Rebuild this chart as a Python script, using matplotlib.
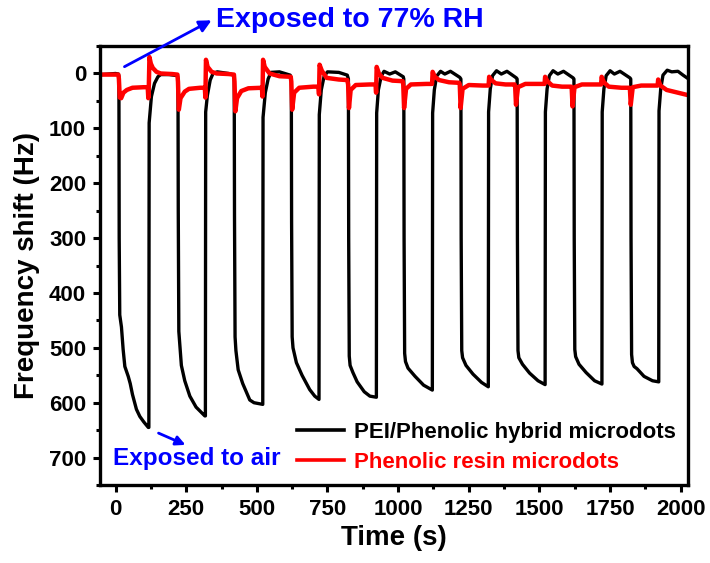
import matplotlib.pyplot as plt
from matplotlib.ticker import MultipleLocator

plt.rcParams['font.family'] = ['Liberation Sans', 'DejaVu Sans']
plt.rcParams['font.weight'] = 'bold'

# PEI/Phenolic hybrid microdots (black), one cycle per line
pei_time = [-50, 0, 10,
            12, 13, 15, 21, 27, 33, 45, 52, 60, 74, 86, 100, 116, 118, 119, 127, 138, 150, 160, 190, 219,
            221, 222, 224, 227, 233, 245, 263, 285, 316, 318, 319, 325, 335, 345, 360, 400, 418,
            420, 421, 423, 426, 434, 450, 475, 490, 510, 521, 522, 530, 540, 550, 580, 618,
            622, 623, 625, 628, 640, 660, 687, 705, 720, 721, 728, 738, 750, 790, 820,
            824, 825, 827, 830, 840, 855, 880, 900, 923, 924, 930, 940, 950, 970, 990, 1018,
            1020, 1021, 1023, 1026, 1035, 1060, 1090, 1121, 1122, 1128, 1136, 1150, 1165, 1185, 1218,
            1222, 1223, 1225, 1228, 1240, 1265, 1295, 1319, 1320, 1326, 1334, 1348, 1365, 1385, 1418,
            1421, 1422, 1424, 1427, 1440, 1465, 1495, 1520, 1521, 1527, 1535, 1548, 1565, 1585, 1619,
            1622, 1623, 1625, 1628, 1640, 1665, 1695, 1721, 1722, 1728, 1736, 1750, 1765, 1785, 1820,
            1823, 1824, 1826, 1829, 1835, 1845, 1870, 1900, 1922, 1923, 1929, 1937, 1952, 1968, 1990, 2008, 2022]
pei_shift = [2, 0, 1,
             5, 300, 440, 462, 503, 534, 552, 565, 585, 612, 625, 635, 645, 645, 90, 42, 18, 6, 2, 2, 4,
             10, 250, 470, 490, 532, 560, 588, 608, 624, 624, 70, 40, 12, 0, -3, 0, 3,
             10, 260, 480, 505, 540, 565, 595, 600, 602, 603, 80, 35, 10, -2, -3, 3,
             10, 270, 480, 500, 527, 550, 576, 588, 594, 75, 30, 5, -3, -2, 3,
             10, 300, 515, 532, 545, 562, 580, 588, 590, 72, 30, 5, -4, 1, -3, 6,
             10, 300, 510, 525, 537, 552, 568, 577, 72, 30, 5, -4, 1, -4, 7,
             10, 300, 505, 518, 532, 548, 563, 571, 70, 28, 4, -5, 1, -4, 8,
             10, 300, 505, 518, 530, 546, 560, 567, 70, 28, 4, -5, 1, -4, 8,
             10, 300, 503, 516, 530, 545, 560, 566, 70, 28, 4, -5, 1, -4, 8,
             10, 300, 512, 527, 534, 538, 552, 560, 562, 68, 28, 3, -6, -3, -4, 3, 8]

# Phenolic resin microdots (red)
resin_time = [-50, 10, 12, 15, 20, 28, 40, 60, 100, 114, 116, 118, 120, 125, 132, 145, 160, 200, 219,
              221, 224, 230, 245, 260, 300, 316, 318, 320, 326, 340, 358, 400, 419,
              421, 424, 430, 445, 470, 518, 520, 522, 528, 545, 580, 620,
              622, 625, 632, 650, 700, 718, 720, 722, 730, 747, 790, 820,
              823, 826, 832, 850, 900, 920, 922, 924, 932, 945, 980, 1016,
              1018, 1021, 1028, 1045, 1100, 1120, 1122, 1130, 1145, 1180, 1216,
              1218, 1221, 1228, 1250, 1300, 1320, 1322, 1330, 1345, 1380, 1412,
              1414, 1417, 1424, 1450, 1500, 1518, 1520, 1528, 1545, 1580, 1612,
              1614, 1617, 1624, 1650, 1700, 1718, 1720, 1728, 1745, 1790, 1818,
              1820, 1823, 1830, 1860, 1900, 1918, 1920, 1928, 1950, 1990, 2022]
resin_shift = [2, 2, 10, 44, 45, 35, 30, 26, 25, 25, 45, 20, -30, -18, -10, -3, 0, 1, 2,
               15, 66, 45, 33, 28, 26, 26, 44, -25, -12, -3, 0, 1, 2,
               15, 69, 45, 32, 27, 26, 42, -25, -12, 0, 5, 6,
               15, 66, 35, 26, 24, 24, 38, -16, -5, 8, 11, 12,
               20, 63, 30, 21, 20, 20, 35, -12, 0, 8, 13, 14,
               20, 63, 28, 20, 19, 19, -3, 6, 12, 16, 17,
               20, 63, 28, 21, 22, 22, 6, 12, 18, 20, 20,
               24, 57, 25, 19, 19, 19, 6, 14, 22, 24, 24,
               26, 60, 25, 20, 20, 20, 6, 16, 24, 26, 26,
               28, 57, 25, 22, 22, 22, 11, 22, 30, 35, 39]

fig = plt.figure(figsize=(7.1, 5.63), dpi=100)
ax = fig.add_axes([0.1408, 0.1385, 0.828, 0.7797])

ax.plot(pei_time, pei_shift, color='black', lw=2.4, label='PEI/Phenolic hybrid microdots')
ax.plot(resin_time, resin_shift, color='red', lw=3.2, label='Phenolic resin microdots')

ax.set_xlim(-55, 2025)
ax.set_ylim(750, -50)
ax.xaxis.set_major_locator(MultipleLocator(250))
ax.xaxis.set_minor_locator(MultipleLocator(125))
ax.yaxis.set_major_locator(MultipleLocator(100))
ax.yaxis.set_minor_locator(MultipleLocator(50))
ax.tick_params(which='both', direction='out', width=2.2, labelsize=16, top=False, right=False)
ax.tick_params(which='major', length=5, pad=5)
ax.tick_params(which='minor', length=3)
for s in ax.spines.values():
    s.set_linewidth(2.4)

ax.set_xlabel('Time (s)', fontsize=20, fontweight='bold', labelpad=4)
ax.set_ylabel('Frequency shift (Hz)', fontsize=20, fontweight='bold', labelpad=6)

leg = ax.legend(loc='upper left', bbox_to_anchor=(297 / 710, 1 - 422 / 563), bbox_transform=fig.transFigure,
                frameon=False, fontsize=16, handlelength=2.1, handletextpad=0.45,
                labelspacing=0.4, borderpad=0, borderaxespad=0)
for txt, c in zip(leg.get_texts(), ['black', 'red']):
    txt.set_color(c)
for ln in leg.get_lines():
    ln.set_linewidth(2.6)

# annotations
fig.text(216 / 710, 1 - 20 / 563, 'Exposed to 77% RH', color='blue', fontsize=20.5,
         fontweight='bold', va='center', ha='left')
ax.annotate('', xy=(214 / 710, 1 - 19 / 563), xycoords='figure fraction',
            xytext=(122 / 710, 1 - 68 / 563), textcoords='figure fraction',
            arrowprops=dict(arrowstyle='-|>', color='blue', lw=2, mutation_scale=18),
            annotation_clip=False)
fig.text(113 / 710, 1 - 458 / 563, 'Exposed to air', color='blue', fontsize=17.5,
         fontweight='bold', va='center', ha='left')
ax.annotate('', xy=(188 / 710, 1 - 446 / 563), xycoords='figure fraction',
            xytext=(156 / 710, 1 - 432 / 563), textcoords='figure fraction',
            arrowprops=dict(arrowstyle='-|>', color='blue', lw=2, mutation_scale=14),
            annotation_clip=False)

plt.savefig('out.png', dpi=100)
